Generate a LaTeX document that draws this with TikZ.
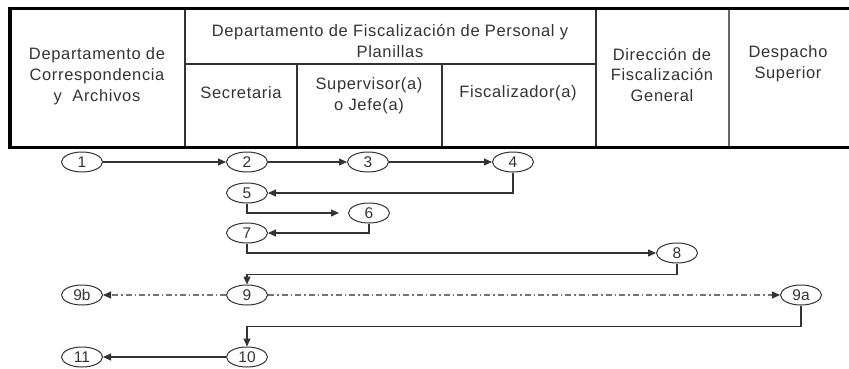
\documentclass[tikz,border=0pt]{standalone}
\usepackage{fontspec}
\setmainfont{Liberation Sans}
\usetikzlibrary{arrows.meta,shapes.geometric}
\definecolor{ink}{HTML}{333333}
\begin{document}
\begin{tikzpicture}[x=1pt,y=-1pt,
  hdr/.style={align=center, font=\fontsize{16.5}{21}\selectfont\addfontfeatures{LetterSpace=4}, text=ink, inner sep=0pt},
  st/.style={draw=ink, ellipse, line width=1pt, minimum width=41pt, minimum height=20pt, inner sep=0pt, font=\fontsize{15.5}{15.5}\selectfont, text=ink},
  flow/.style={draw=ink, line width=1.1pt, -{Triangle[length=8pt,width=7pt]}},
  dd/.style={draw=black!55, line width=1.1pt, -{Triangle[length=8pt,width=7pt,color=ink]}, dash pattern=on 6pt off 3pt on 1.5pt off 3pt},
  inner/.style={line width=1.5pt, draw=ink}]
\useasboundingbox (0,0) rectangle (849,368);
% table
\draw[inner] (185,8) -- (185,147);
\draw[inner] (297,64) -- (297,147);
\draw[inner] (442,64) -- (442,147);
\draw[inner] (596,8) -- (596,147);
\draw[inner, draw=black!60] (729,8) -- (729,147);
\draw[inner] (185,64) -- (596,64);
\draw[line width=3pt] (849,8) -- (10,8);
\draw[line width=3pt] (10,147) -- (849,147);
\draw[line width=4.5pt] (10,6.5) -- (10,148.5);
% header texts
\node[hdr] (hcor) at (97,76) {Departamento de\\Correspondencia\\y\ \ Archivos};
\node[hdr] (hfis) at (390,41) {Departamento de Fiscalización de Personal y\\Planillas};
\node[hdr] (hsec) at (241,93) {Secretaria};
\node[hdr] (hsup) at (369,96) {Supervisor(a)\\o Jefe(a)};
\node[hdr] (hfz) at (518,93) {Fiscalizador(a)};
\node[hdr] (hdir) at (662,75) {Dirección de\\Fiscalización\\General};
\node[hdr] (hdes) at (788,64) {Despacho\\Superior};
% states
\node[st] (n1) at (82,162) {1};
\node[st] (n2) at (247,162) {2};
\node[st] (n3) at (368,162) {3};
\node[st] (n4) at (513,162) {4};
\node[st] (n5) at (247,193) {5};
\node[st] (n6) at (369,213) {6};
\node[st] (n7) at (247,233) {7};
\node[st] (n8) at (677,253) {8};
\node[st] (n9) at (247,295) {9};
\node[st] (n9b) at (82,295) {9b};
\node[st] (n9a) at (801,295) {9a};
\node[st] (n10) at (247,357) {10};
\node[st] (n11) at (82,357) {11};
% connectors
\draw[flow] (n1) -- (n2);
\draw[flow] (n2) -- (n3);
\draw[flow] (n3) -- (n4);
\draw[flow] (n4.south) |- (n5.east);
\draw[flow, shorten >=9pt] (n5.south) |- (n6.west);
\draw[flow] (n6.south) |- (n7.east);
\draw[flow] (n7.south) |- (n8.west);
\draw[flow] (n8.south) -- ++(0,11) -| (n9.north);
\draw[dd] (n9) -- (n9b);
\draw[dd] (n9) -- (n9a);
\draw[flow] (n9a.south) -- ++(0,21) -| (n10.north);
\draw[flow] (n10) -- (n11);
\end{tikzpicture}
\end{document}
